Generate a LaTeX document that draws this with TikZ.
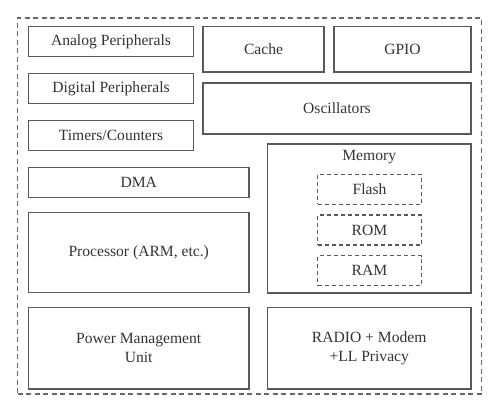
\documentclass[tikz,border=0pt]{standalone}
\usepackage{fontspec}
\setmainfont{Liberation Serif}
\begin{document}
\begin{tikzpicture}[x=1pt,y=-1pt,
  box/.style={draw=black!65, line width=1.2pt, rectangle, inner sep=0pt, text=black!80,
    font=\fontsize{15.6}{18.5}\selectfont, align=center},
  dbox/.style={box, dashed, dash pattern=on 4pt off 3pt},
  outer/.style={draw=black!60, line width=1.2pt, dash pattern=on 5pt off 3.5pt}]
\useasboundingbox (0,0) rectangle (500,413);
\node[outer, rectangle, minimum width=464.2pt, minimum height=376pt] (frame) at (249.6,206) {};
\node[box, minimum width=165.4pt, minimum height=30pt] (analog) at (111,41.7) {Analog Peripherals};
\node[box, minimum width=165.4pt, minimum height=30pt] (digital) at (111,88.7) {Digital Peripherals};
\node[box, minimum width=165.4pt, minimum height=30pt] (timers) at (111,135.7) {Timers/Counters};
\node[box, minimum width=220.7pt, minimum height=30.4pt] (dma) at (138.7,182.5) {DMA};
\node[box, minimum width=220.7pt, minimum height=80.4pt] (proc) at (138.7,252.5) {Processor (ARM, etc.)};
\node[box, minimum width=220.7pt, minimum height=81.7pt] (power) at (138.7,348.2) {Power Management\\Unit};
\node[box, minimum width=121pt, minimum height=45.3pt] (cache) at (263.5,49.3) {Cache};
\node[box, minimum width=137pt, minimum height=45.3pt] (gpio) at (402.5,49.3) {GPIO};
\node[box, minimum width=268pt, minimum height=51pt] (osc) at (337,108.5) {Oscillators};
\node[box, minimum width=203.7pt, minimum height=149pt] (mem) at (369.2,218.5) {};
\node[box, draw=none] (memlabel) at (369.2,157) {Memory};
\node[dbox, minimum width=103.6pt, minimum height=30pt] (flash) at (369.5,189.4) {Flash};
\node[dbox, minimum width=103.6pt, minimum height=30pt] (rom) at (369.5,230) {ROM};
\node[dbox, minimum width=103.6pt, minimum height=30pt] (ram) at (369.5,270.7) {RAM};
\node[box, minimum width=203.7pt, minimum height=81.7pt] (radio) at (369.2,348.2) {RADIO + Modem\\+LL Privacy};
\end{tikzpicture}
\end{document}
